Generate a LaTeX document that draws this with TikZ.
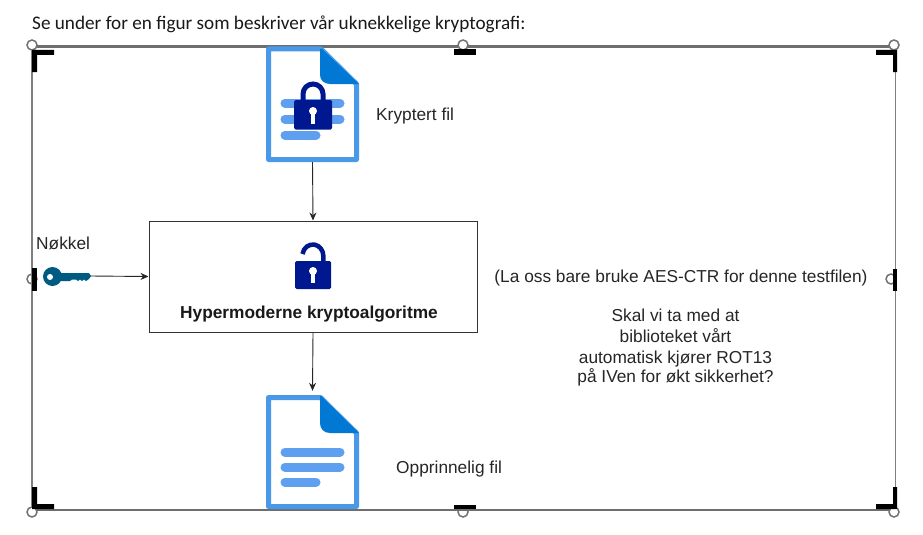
\documentclass[tikz,border=0pt]{standalone}
\usepackage{fontspec}
\setmainfont{Liberation Sans}
\newfontfamily\calib{Carlito}
\usetikzlibrary{arrows.meta}
\definecolor{docblue}{HTML}{4A98E8}
\definecolor{foldblue}{HTML}{0078D4}
\definecolor{linesblue}{HTML}{5EA0EF}
\definecolor{locknavy}{HTML}{00188F}
\definecolor{keyblue}{HTML}{005B82}
\definecolor{framegray}{HTML}{6E6E6E}
\tikzset{
  x=1pt,y=-1pt,
  lbl/.style={font=\fontsize{17.3}{20}\selectfont,text=black!85,inner sep=0pt},
  flow/.style={draw=black!85,line width=0.9pt,-{Stealth[length=8pt,width=7pt]}},
  docline/.style={line width=9pt,line cap=round,draw=linesblue},
  docframe/.style={draw=docblue,line width=5pt,line join=round,fill=white},
  crop/.style={fill=black,draw=none},
  handle/.style={draw=black!55,line width=1.5pt,fill=white,circle,inner sep=0pt,minimum size=10pt},
}
\begin{document}
\begin{tikzpicture}
\useasboundingbox (0,0) rectangle (923,535);
\fill[white] (0,0) rectangle (923,535);

% selection frame
\node[handle] (h1) at (32,45) {};
\node[handle] (h2) at (463,45) {};
\node[handle] (h3) at (894,45) {};
\node[handle] (h4) at (32,512) {};
\node[handle] (h5) at (463,512) {};
\node[handle] (h6) at (894,512) {};
\node[handle] (h7) at (32,279) {};
\node[handle] (h8) at (891,279) {};
\draw[framegray,line width=3.5pt] (37,46.5) -- (458,46.5);
\draw[framegray,line width=3.5pt] (468,46.5) -- (889,46.5);
\draw[framegray,line width=1.3pt] (37,510) -- (889,510);
\draw[black!50,line width=1.2pt] (32,50) -- (32,507);
\draw[black!50,line width=1.2pt] (895.5,50) -- (895.5,508);

% crop marks
\fill[crop] (32,50) -- (54,50) -- (54,55) -- (37,55) -- (37,72) -- (32,72) -- cycle;
\fill[crop] (876,50) -- (897,50) -- (897,72) -- (893,72) -- (893,55) -- (876,55) -- cycle;
\fill[crop] (32,487) -- (37,487) -- (37,504) -- (54,504) -- (54,509) -- (32,509) -- cycle;
\fill[crop] (876,504) -- (893,504) -- (893,487) -- (897,487) -- (897,509) -- (876,509) -- cycle;
\fill[crop] (454,49) rectangle (476,55);
\fill[crop] (454,505) rectangle (476,509);
\fill[crop] (32,268) rectangle (37,291);
\fill[crop] (893,269) rectangle (897,291);

% heading
\node[anchor=base west,inner sep=0pt,font=\calib\fontsize{19.2}{22}\selectfont,text=black!90] (head) at (32,30) {Se under for en figur som beskriver vår uknekkelige kryptografi:};

% top document
\draw[docframe] (268.5,49) -- (321,49) -- (356.5,84) -- (356.5,159.5) -- (268.5,159.5) -- cycle;
\fill[foldblue] (322,49) -- (359,84) -- (330,84) .. controls (324,84) and (320,80) .. (320,75) -- (320,49) -- cycle;
\draw[docline] (285,103) -- (340,103);
\draw[docline] (285,119) -- (340,119);
\draw[docline] (285,135) -- (316,135);
\node[anchor=center,inner sep=0pt,minimum width=93pt,minimum height=116pt] (enc) at (312.5,104) {};
% closed lock
\draw[locknavy,line width=5pt] (303,104) -- (303,94) arc[start angle=180,end angle=360,x radius=10,y radius=10] -- (323,104);
\fill[locknavy,rounded corners=1.5pt] (294,100) rectangle (332,129.5);
\fill[white] (313,111) circle[radius=4];
\fill[white] (311,112) rectangle (315,124);

% bottom document
\draw[docframe] (268.5,397.5) -- (320.5,397.5) -- (356.5,433) -- (356.5,506.5) -- (268.5,506.5) -- cycle;
\fill[foldblue] (321,396) -- (359,433) -- (330,433) .. controls (324,433) and (320,429) .. (320,423) -- (320,396) -- cycle;
\draw[docline] (285,452) -- (340,452);
\draw[docline] (285,467) -- (340,467);
\draw[docline] (285,482) -- (316,482);
\node[anchor=center,inner sep=0pt,minimum width=93pt,minimum height=118pt] (dec) at (312.5,450) {};

% main box
\node[draw=black!80,line width=1pt,fill=white,minimum width=328pt,minimum height=111pt,inner sep=0pt] (algo) at (313,276.5) {};
\node[anchor=base,inner sep=0pt,font=\bfseries\fontsize{17.3}{20}\selectfont,text=black!90] (algotxt) at (309,318) {Hypermoderne kryptoalgoritme};
% open lock
\draw[locknavy,line width=4.5pt] (302.5,254) arc[start angle=190,end angle=360,x radius=10.5,y radius=11.5] -- (323.5,262);
\fill[locknavy,rounded corners=1.5pt] (295,261) rectangle (331,289);
\fill[white] (313,271) circle[radius=4];
\fill[white] (311.3,272) rectangle (314.7,283);

% key
\fill[keyblue] (52.5,276.5) circle[radius=9.5];
\fill[keyblue] (58,273) -- (89,273) -- (91,276) -- (89,279) -- (86,281) -- (84,279.5) -- (82,281) -- (80,279.5) -- (78,281) -- (76,279.5) -- (72,279.5) -- (70,281) -- (58,281) -- cycle;
\fill[white] (50,277) circle[radius=3];
\coordinate (keytip) at (90,276);

% connectors
\draw[flow] (enc.south) -- (algo.north);
\draw[flow] (keytip) -- (algo.west);
\draw[flow] (algo.south) -- (dec.north);

% labels
\node[lbl,anchor=base west] (l1) at (376,120.5) {Kryptert fil};
\node[lbl,anchor=base west] (l2) at (396,473.5) {Opprinnelig fil};
\node[lbl,anchor=base west] (l3) at (36,249) {Nøkkel};
\node[lbl,anchor=base] (l4) at (681,282) {(La oss bare bruke AES-CTR for denne testfilen)};
\node[lbl,anchor=base] (l5) at (675.5,321.5) {Skal vi ta med at};
\node[lbl,anchor=base] (l6) at (675.5,342) {biblioteket vårt};
\node[lbl,anchor=base] (l7) at (675.5,363) {automatisk kjører ROT13};
\node[lbl,anchor=base] (l8) at (675.5,382.5) {på IVen for økt sikkerhet?};
\end{tikzpicture}
\end{document}
